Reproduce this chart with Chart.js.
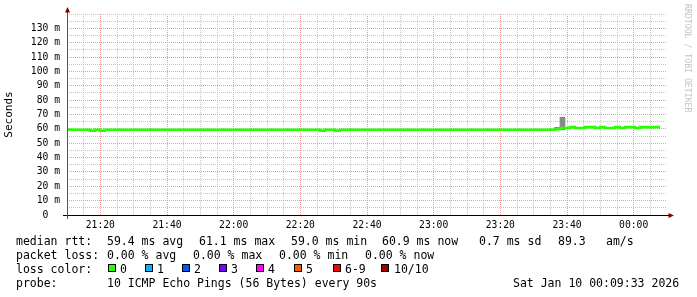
<!DOCTYPE html>
<html lang="en">
<head>
  <meta charset="UTF-8">
  <title>SmokePing median RTT</title>
  <script src="https://cdn.jsdelivr.net/npm/chart.js@4"></script>
  <style>
    html, body { margin: 0; padding: 0; background: #fff; }
    #wrap { position: relative; width: 697px; height: 297px; overflow: hidden; }
    #chart { position: absolute; left: 0; top: 0; }
    .lg {
      position: absolute;
      font-family: 'DejaVu Sans Mono', monospace;
      font-size: 11.5px;
      line-height: 14px;
      color: #000;
      white-space: pre;
    }
    .box { position: absolute; top: 264px; width: 6px; height: 6px; border: 1px solid #000; }
    #mark {
      position: absolute;
      left: 683px;
      top: 4px;
      writing-mode: vertical-rl;
      font-family: 'DejaVu Sans Mono', monospace;
      font-size: 8.2px;
      color: #c4c4c4;
    }
  </style>
</head>
<body>
  <div id="wrap">
    <canvas id="chart" width="697" height="297"></canvas>

    <div id="mark">RRDTOOL / TOBI OETIKER</div>

    <!-- legend rows -->
    <span class="lg" style="left:16px; top:234px">median rtt:</span>
    <span class="lg" style="left:107px; top:234px">59.4 ms avg</span>
    <span class="lg" style="left:199px; top:234px">61.1 ms max</span>
    <span class="lg" style="left:291px; top:234px">59.0 ms min</span>
    <span class="lg" style="left:382px; top:234px">60.9 ms now</span>
    <span class="lg" style="left:479px; top:234px">0.7 ms sd</span>
    <span class="lg" style="left:558px; top:234px">89.3</span>
    <span class="lg" style="left:606px; top:234px">am/s</span>

    <span class="lg" style="left:16px; top:248px">packet loss:</span>
    <span class="lg" style="left:107px; top:248px">0.00 % avg</span>
    <span class="lg" style="left:193px; top:248px">0.00 % max</span>
    <span class="lg" style="left:279px; top:248px">0.00 % min</span>
    <span class="lg" style="left:365px; top:248px">0.00 % now</span>

    <span class="lg" style="left:16px; top:262px">loss color:</span>
    <span class="box" style="left:108px; background:#26ff00"></span><span class="lg" style="left:120px; top:262px">0</span>
    <span class="box" style="left:145px; background:#00b8ff"></span><span class="lg" style="left:157px; top:262px">1</span>
    <span class="box" style="left:182px; background:#0059ff"></span><span class="lg" style="left:194px; top:262px">2</span>
    <span class="box" style="left:219px; background:#7e00ff"></span><span class="lg" style="left:231px; top:262px">3</span>
    <span class="box" style="left:256px; background:#ff00ff"></span><span class="lg" style="left:268px; top:262px">4</span>
    <span class="box" style="left:294px; background:#ff5500"></span><span class="lg" style="left:306px; top:262px">5</span>
    <span class="box" style="left:333px; background:#ff0000"></span><span class="lg" style="left:345px; top:262px">6-9</span>
    <span class="box" style="left:381px; background:#a00000"></span><span class="lg" style="left:394px; top:262px">10/10</span>

    <span class="lg" style="left:16px; top:276px">probe:</span>
    <span class="lg" style="left:107px; top:276px">10 ICMP Echo Pings (56 Bytes) every 90s</span>
    <span class="lg" style="left:513px; top:276px">Sat Jan 10 00:09:33 2026</span>
  </div>

  <script>
    // time axis in minutes since midnight (21:10 -> 00:10 next day)
    const xMin = 1270;
    const xMax = 1450;

    // median rtt steps: start minute of each step and its value (ms)
    const rttTime = [1270, 1276.9, 1278.4, 1279.9, 1281.4, 1345.9, 1347.4, 1350.4, 1351.9,
                     1416.4, 1417.9, 1420.9, 1422.4, 1425.4, 1428.4, 1429.9, 1431.4,
                     1434.4, 1435.9, 1437.4, 1440.4, 1441.9, 1447.9];
    const rttMedian = [59.4, 58.8, 59.4, 58.8, 59.4, 58.8, 59.4, 58.8, 59.4,
                       60.0, 60.6, 61.2, 60.6, 61.2, 60.6, 61.2, 60.6,
                       61.2, 60.6, 61.2, 60.6, 61.2, 61.2];

    // smoke (spread of the pings) where it shows above the median
    const smokeTime = [1417.15, 1418.65];
    const smokeLow = [59.4, 59.3];
    const smokeHigh = [61.0, 68.1];

    const yMax = 140;

    const gridGray = '#c6c6c6';
    const gridRed = '#ee9898';

    function clock(m) {
      const t = ((Math.round(m) % 1440) + 1440) % 1440;
      const h = Math.floor(t / 60), mm = t % 60;
      return String(h).padStart(2, '0') + ':' + String(mm).padStart(2, '0');
    }

    // arrows at the axis ends, like rrdtool
    const axisArrows = {
      id: 'axisArrows',
      afterDraw(chart) {
        const { ctx, chartArea: a } = chart;
        const x0 = a.left + 0.5, y0 = a.bottom + 0.5;
        ctx.save();
        ctx.strokeStyle = '#000';
        ctx.lineWidth = 1;
        ctx.beginPath();
        ctx.moveTo(a.left - 4, y0); ctx.lineTo(a.right + 3, y0);
        ctx.stroke();
        ctx.strokeStyle = '#555';
        ctx.beginPath();
        ctx.moveTo(x0, a.bottom + 4); ctx.lineTo(x0, a.top - 2);
        ctx.stroke();
        ctx.fillStyle = '#800000';
        ctx.beginPath();
        ctx.moveTo(x0, a.top - 7);
        ctx.lineTo(x0 - 2.5, a.top - 1.5);
        ctx.lineTo(x0 + 2.5, a.top - 1.5);
        ctx.closePath();
        ctx.fill();
        ctx.beginPath();
        ctx.moveTo(a.right + 7, y0);
        ctx.lineTo(a.right + 1.5, y0 - 2.5);
        ctx.lineTo(a.right + 1.5, y0 + 2.5);
        ctx.closePath();
        ctx.fill();
        ctx.restore();
      }
    };

    const tickFont = { family: 'DejaVu Sans Mono', size: 9.7 };

    new Chart(document.getElementById('chart'), {
      type: 'line',
      data: {
        datasets: [
          {
            label: 'median rtt',
            data: rttTime.map((t, i) => ({ x: t, y: rttMedian[i] })),
            borderColor: '#26ff00',
            borderWidth: 2.6,
            stepped: true,
            pointRadius: 0,
            fill: false,
            order: 0
          },
          {
            type: 'bar',
            label: 'smoke',
            data: smokeTime.map((t, i) => ({ x: t, y: [smokeLow[i], smokeHigh[i]] })),
            backgroundColor: ['#5a5a5a', '#8a8a8a'],
            barThickness: 5,
            grouped: false,
            order: 1
          }
        ]
      },
      options: {
        responsive: false,
        animation: false,
        layout: { padding: { top: 14, right: 30, left: 0, bottom: 0 } },
        plugins: {
          legend: { display: false },
          tooltip: { enabled: false }
        },
        scales: {
          x: {
            type: 'linear',
            min: xMin,
            max: xMax,
            offset: false,
            afterFit(scale) { scale.height = 82; },
            border: { display: false, dash: [1, 1] },
            grid: {
              offset: false,
              drawTicks: false,
              color(c) {
                if (!c.tick) return gridGray;
                const v = Math.round(c.tick.value);
                if (v <= xMin || v >= xMax) return 'rgba(0,0,0,0)';
                return v % 20 === 0 ? gridRed : gridGray;
              }
            },
            ticks: {
              stepSize: 5,
              autoSkip: false,
              maxRotation: 0,
              padding: 5,
              color: '#000',
              font: tickFont,
              callback: (v) => (Math.round(v) % 20 === 0 ? clock(v) : '')
            }
          },
          y: {
            min: 0,
            max: yMax,
            afterFit(scale) { scale.width = 67; },
            border: { display: false, dash: [1, 1] },
            grid: {
              drawTicks: false,
              color(c) {
                if (!c.tick) return gridGray;
                const v = Math.round(c.tick.value);
                if (v === 0) return 'rgba(0,0,0,0)';
                return (v % 10 === 0 && v < yMax) ? gridRed : gridGray;
              }
            },
            ticks: {
              stepSize: 5,
              autoSkip: false,
              padding: 7,
              color: '#000',
              font: tickFont,
              callback: (v) => (Math.round(v) % 10 === 0 && v < yMax ? (v === 0 ? '0  ' : v + ' m') : '')
            },
            title: {
              display: true,
              text: 'Seconds',
              color: '#000',
              font: { family: 'DejaVu Sans Mono', size: 11 },
              padding: { top: 3, bottom: 0 }
            }
          }
        }
      },
      plugins: [axisArrows]
    });
  </script>
</body>
</html>
